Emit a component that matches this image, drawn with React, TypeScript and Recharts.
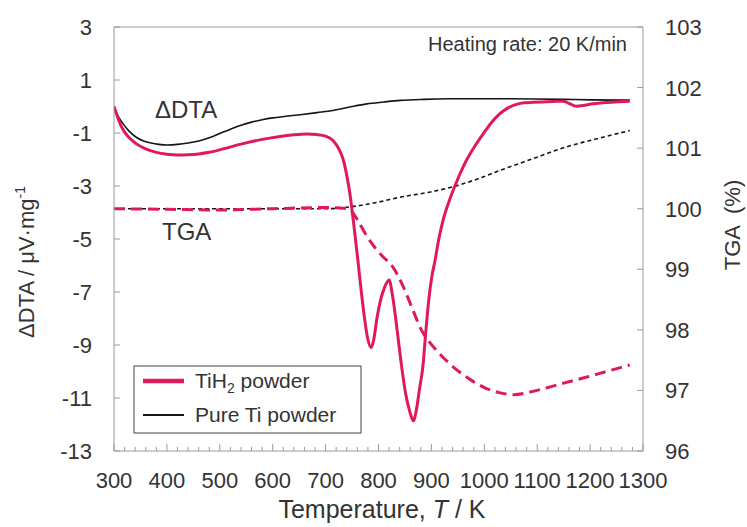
import React from 'react';
import { ComposedChart, Line, XAxis, YAxis, ReferenceLine } from 'recharts';

// [T (K), value]
const TIH2_DTA: [number, number][] = [
  [300, 0.0], [306, -0.35], [314, -0.76], [326, -1.12], [341, -1.39], [360, -1.6],
  [380, -1.73], [400, -1.8], [420, -1.83], [440, -1.82], [460, -1.79], [480, -1.73],
  [510, -1.58], [544, -1.4], [578, -1.25], [611, -1.14], [640, -1.07], [665, -1.04],
  [683, -1.06], [700, -1.12], [714, -1.28], [725, -1.6], [734, -2.05], [740, -2.6],
  [746, -3.3], [753, -4.4], [761, -5.8], [767, -6.9], [773, -7.9], [779, -8.7],
  [786, -9.1], [791, -8.8], [797, -8.0], [804, -7.3], [812, -6.8], [820, -6.55],
  [827, -7.2], [835, -8.4], [843, -9.7], [851, -10.8], [859, -11.5], [866, -11.86],
  [872, -11.4], [878, -10.6], [884, -9.8], [889, -8.6], [895, -7.3], [901, -6.4],
  [907, -5.8], [914, -5.0], [922, -4.3], [933, -3.6], [944, -3.02], [955, -2.5],
  [966, -2.04], [982, -1.5], [998, -1.03], [1013, -0.62], [1029, -0.28], [1045, -0.05],
  [1061, 0.08], [1075, 0.14], [1092, 0.16], [1130, 0.19], [1149, 0.2], [1160, 0.12],
  [1174, 0.01], [1190, 0.05], [1205, 0.1], [1240, 0.16], [1275, 0.2],
];

const PURE_TI_DTA: [number, number][] = [
  [300, 0.0], [306, -0.3], [315, -0.59], [328, -0.92], [342, -1.16], [356, -1.3],
  [370, -1.38], [385, -1.43], [400, -1.45], [420, -1.43], [440, -1.38], [460, -1.3],
  [480, -1.18], [500, -1.02], [520, -0.86], [540, -0.71], [560, -0.59], [580, -0.5],
  [600, -0.43], [625, -0.37], [652, -0.31], [684, -0.23], [714, -0.15], [750, 0.0],
  [778, 0.1], [810, 0.17], [841, 0.23], [885, 0.27], [935, 0.29], [1050, 0.29],
  [1150, 0.27], [1200, 0.25], [1275, 0.24],
];

const TIH2_TGA: [number, number][] = [
  [300, 100.0], [400, 99.99], [500, 99.98], [600, 100.0], [700, 100.02], [742, 100.0],
  [750, 99.95], [760, 99.82], [773, 99.62], [787, 99.43], [807, 99.22], [827, 99.04],
  [847, 98.71], [864, 98.35], [881, 98.0], [898, 97.78], [915, 97.61], [948, 97.34],
  [975, 97.17], [1002, 97.04], [1030, 96.96], [1056, 96.93], [1085, 96.97], [1117, 97.04],
  [1150, 97.12], [1185, 97.2], [1230, 97.31], [1275, 97.42],
];

const PURE_TI_TGA: [number, number][] = [
  [300, 100.0], [500, 100.0], [700, 100.0], [746, 100.03], [800, 100.11], [841, 100.19],
  [900, 100.28], [944, 100.37], [990, 100.5], [1029, 100.63], [1090, 100.82],
  [1155, 101.02], [1215, 101.16], [1275, 101.29],
];

const X_MAJOR = [300, 400, 500, 600, 700, 800, 900, 1000, 1100, 1200, 1300];
const DTA_TICKS = [-13, -11, -9, -7, -5, -3, -1, 1, 3];
const TGA_TICKS = [96, 97, 98, 99, 100, 101, 102, 103];

// minor ticks every 20 K between the labelled ones
const X_TICKS: number[] = [];
for (let t = 300; t <= 1300; t += 20) X_TICKS.push(t);

const RED = '#e0185c';
const BLACK = '#151515';
const AXIS = '#9a9a9a';
const TEXT = '#333';
const FONT = '"Liberation Sans", Arial, sans-serif';

const toPoints = (arr: [number, number][]) => arr.map(([t, v]) => ({ t, v }));

function XTick(props: any) {
  const { x, y, payload } = props;
  const major = X_MAJOR.includes(payload.value);
  return (
    <g>
      <line x1={x} x2={x} y1={y} y2={y - (major ? 7 : 4)} stroke={AXIS} strokeWidth={1} />
      {major && (
        <text x={x} y={y + 37} textAnchor="middle" fontSize={22} fill={TEXT} fontFamily={FONT}>
          {payload.value}
        </text>
      )}
    </g>
  );
}

function LeftTick(props: any) {
  const { x, y, payload } = props;
  return (
    <g>
      <line x1={x} x2={x + 6} y1={y} y2={y} stroke={AXIS} />
      <text x={x - 22} y={y + 8} textAnchor="end" fontSize={22} fill={TEXT} fontFamily={FONT}>
        {payload.value}
      </text>
    </g>
  );
}

function RightTick(props: any) {
  const { x, y, payload } = props;
  return (
    <g>
      <line x1={x} x2={x - 6} y1={y} y2={y} stroke={AXIS} />
      <text x={x + 22} y={y + 8} textAnchor="start" fontSize={22} fill={TEXT} fontFamily={FONT}>
        {payload.value}
      </text>
    </g>
  );
}

export default function App() {
  return (
    <div style={{ position: 'absolute', left: 0, top: 0, width: 747, height: 527, background: '#fff' }}>
      <ComposedChart width={747} height={527} margin={{ top: 27, right: 0, bottom: 0, left: 0 }}>
        <XAxis
          dataKey="t"
          type="number"
          domain={[300, 1300]}
          ticks={X_TICKS}
          interval={0}
          tick={<XTick />}
          tickLine={false}
          tickSize={0}
          tickMargin={0}
          height={76}
          stroke={AXIS}
          allowDataOverflow
        />
        <YAxis
          yAxisId="dta"
          domain={[-13, 3]}
          ticks={DTA_TICKS}
          interval={0}
          tick={<LeftTick />}
          tickLine={false}
          tickSize={0}
          tickMargin={0}
          width={114}
          stroke={AXIS}
          allowDataOverflow
        />
        <YAxis
          yAxisId="tga"
          orientation="right"
          domain={[96, 103]}
          ticks={TGA_TICKS}
          interval={0}
          tick={<RightTick />}
          tickLine={false}
          tickSize={0}
          tickMargin={0}
          width={104}
          stroke={AXIS}
          allowDataOverflow
        />
        <ReferenceLine yAxisId="dta" y={3} stroke={AXIS} />
        <Line
          yAxisId="tga"
          data={toPoints(PURE_TI_TGA)}
          dataKey="v"
          type="monotone"
          stroke={BLACK}
          strokeWidth={1.6}
          strokeDasharray="4 3"
          dot={false}
          isAnimationActive={false}
        />
        <Line
          yAxisId="tga"
          data={toPoints(TIH2_TGA)}
          dataKey="v"
          type="monotone"
          stroke={RED}
          strokeWidth={3}
          strokeDasharray="11 6"
          dot={false}
          isAnimationActive={false}
        />
        <Line
          yAxisId="dta"
          data={toPoints(PURE_TI_DTA)}
          dataKey="v"
          type="monotone"
          stroke={BLACK}
          strokeWidth={1.6}
          dot={false}
          isAnimationActive={false}
        />
        <Line
          yAxisId="dta"
          data={toPoints(TIH2_DTA)}
          dataKey="v"
          type="monotone"
          stroke={RED}
          strokeWidth={3}
          dot={false}
          isAnimationActive={false}
        />
      </ComposedChart>
      <svg
        width={747}
        height={527}
        style={{ position: 'absolute', left: 0, top: 0, pointerEvents: 'none' }}
        fontFamily={FONT}
      >
        <text x={627} y={51} textAnchor="end" fontSize={20} fill={TEXT}>
          Heating rate: 20 K/min
        </text>
        <text x={155} y={118} fontSize={24} fill={TEXT}>ΔDTA</text>
        <text x={162} y={240} fontSize={24} fill={TEXT}>TGA</text>
        <text x={382} y={518} textAnchor="middle" fontSize={25} fill={TEXT}>
          Temperature, <tspan fontStyle="italic">T</tspan> / K
        </text>
        <text transform="translate(34,262) rotate(-90)" textAnchor="middle" fontSize={22} fill={TEXT}>
          ΔDTA / μV·mg<tspan dy={-9} fontSize={14}>-1</tspan>
        </text>
        <text
          transform="translate(740,225) rotate(-90)"
          textAnchor="middle"
          fontSize={22}
          fill={TEXT}
          style={{ whiteSpace: 'pre' }}
        >
          {'TGA  (%)'}
        </text>
        <g>
          <rect x={134} y={366} width={227} height={67} fill="#fff" stroke="#444" strokeWidth={1} />
          <line x1={143} x2={184} y1={381} y2={381} stroke={RED} strokeWidth={4.5} />
          <text x={195} y={388} fontSize={21} fill={TEXT}>
            TiH<tspan dy={5} fontSize={14}>2</tspan><tspan dy={-5}> powder</tspan>
          </text>
          <line x1={143} x2={184} y1={415} y2={415} stroke={BLACK} strokeWidth={2} />
          <text x={195} y={422} fontSize={21} fill={TEXT}>Pure Ti powder</text>
        </g>
      </svg>
    </div>
  );
}
